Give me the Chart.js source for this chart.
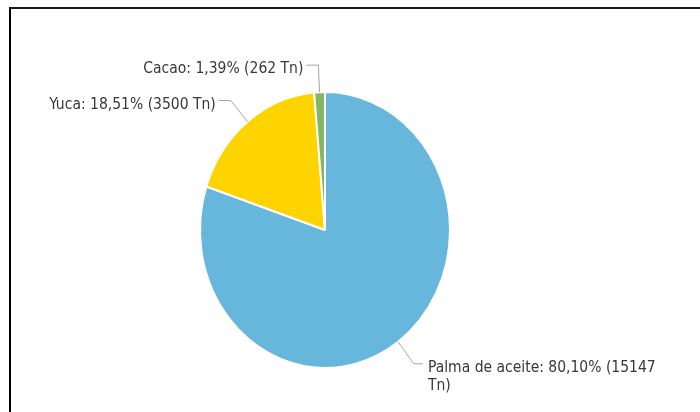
<!DOCTYPE html>
<html lang="es">
<head>
    <meta charset="UTF-8">
    <title>Producción</title>
    <script src="https://cdn.jsdelivr.net/npm/chart.js"></script>
    <style>
        html, body { margin: 0; padding: 0; background: #fff; }
        .wrap {
            position: relative;
            width: 700px;
            height: 412px;
            overflow: hidden;
        }
        .frame {
            position: absolute;
            left: 9px;
            top: 7px;
            width: 800px;
            height: 500px;
            border-top: 2px solid #1a1a1a;
            border-left: 2px solid #000;
        }
        .chart-box {
            position: absolute;
            left: 0;
            top: 0;
            width: 700px;
            height: 412px;
        }
    </style>
</head>
<body>
    <div class="wrap">
        <div class="chart-box"><canvas id="pieChart"></canvas></div>
        <div class="frame"></div>
    </div>

    <script>
        // data
        const categories = ['Palma de aceite', 'Yuca', 'Cacao'];
        const tonnes = [15147, 3500, 262];
        const unit = 'Tn';

        const sliceColors = ['#67b7dc', '#fdd400', '#84b761'];
        const stretchY = 138 / 125;   // the pie is a bit taller than wide
        const labelFont = '15.5px "DejaVu Sans Condensed", "DejaVu Sans", sans-serif';
        const labelMaxWidth = 235;

        const total = tonnes.reduce((a, b) => a + b, 0);

        function labelText(i) {
            const pct = (tonnes[i] / total * 100).toFixed(2).replace('.', ',');
            return categories[i] + ': ' + pct + '% (' + tonnes[i] + ' ' + unit + ')';
        }

        function wrapWords(ctx, text, maxW) {
            const words = text.split(' ');
            const lines = [];
            let cur = '';
            words.forEach(w => {
                const test = cur ? cur + ' ' + w : w;
                if (cur && ctx.measureText(test).width > maxW) {
                    lines.push(cur);
                    cur = w;
                } else {
                    cur = test;
                }
            });
            if (cur) lines.push(cur);
            return lines;
        }

        // squash/stretch the arcs around the centre
        const ellipsePlugin = {
            id: 'ellipse',
            beforeDatasetsDraw(chart) {
                const arc = chart.getDatasetMeta(0).data[0];
                const ctx = chart.ctx;
                ctx.save();
                ctx.translate(arc.x, arc.y);
                ctx.scale(1, stretchY);
                ctx.translate(-arc.x, -arc.y);
            },
            afterDatasetsDraw(chart) {
                chart.ctx.restore();
            }
        };

        // outside labels with leader lines
        const labelPlugin = {
            id: 'sliceLabels',
            afterDraw(chart) {
                const ctx = chart.ctx;
                const meta = chart.getDatasetMeta(0);
                ctx.save();
                ctx.font = labelFont;
                meta.data.forEach((arc, i) => {
                    const p = arc.getProps(['x', 'y', 'startAngle', 'endAngle', 'outerRadius']);
                    const mid = (p.startAngle + p.endAngle) / 2;
                    const rx = p.outerRadius;
                    const ry = p.outerRadius * stretchY;
                    const cos = Math.cos(mid), sin = Math.sin(mid);
                    const ext = 27;
                    const x0 = p.x + rx * cos, y0 = p.y + ry * sin;
                    const x1 = p.x + (rx + ext) * cos, y1 = p.y + (ry + ext) * sin;
                    const right = cos >= 0;
                    const x2 = x1 + (right ? 9 : -12);

                    ctx.strokeStyle = '#a6a6a6';
                    ctx.lineWidth = 1;
                    ctx.beginPath();
                    ctx.moveTo(x0, y0);
                    ctx.lineTo(x1, y1);
                    ctx.lineTo(x2, y1);
                    ctx.stroke();

                    const lines = wrapWords(ctx, labelText(i), labelMaxWidth);
                    ctx.fillStyle = '#383838';
                    ctx.textBaseline = 'middle';
                    ctx.textAlign = right ? 'left' : 'right';
                    const tx = x2 + (right ? 5 : -3);
                    lines.forEach((ln, k) => {
                        ctx.fillText(ln, tx, y1 + 4 + k * 18);
                    });
                });
                ctx.restore();
            }
        };

        new Chart(document.getElementById('pieChart'), {
            type: 'pie',
            data: {
                labels: categories,
                datasets: [{
                    data: tonnes,
                    backgroundColor: sliceColors,
                    borderColor: '#ffffff',
                    borderWidth: 2
                }]
            },
            options: {
                responsive: true,
                maintainAspectRatio: false,
                animation: false,
                radius: 125,
                layout: {
                    padding: { left: 0, right: 50, top: 48, bottom: 0 }
                },
                plugins: {
                    legend: { display: false },
                    tooltip: { enabled: false }
                }
            },
            plugins: [ellipsePlugin, labelPlugin]
        });
    </script>
</body>
</html>
